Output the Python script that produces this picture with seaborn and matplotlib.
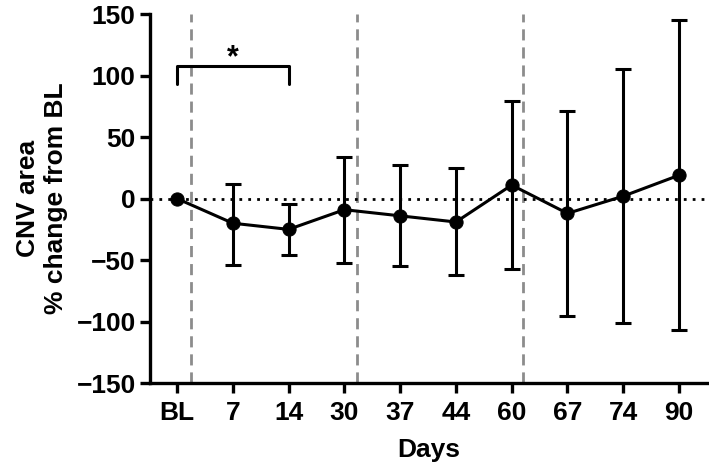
import numpy as np
import pandas as pd
import matplotlib
matplotlib.use("Agg")
import matplotlib.pyplot as plt
import seaborn as sns

# data
days = ["BL", "7", "14", "30", "37", "44", "60", "67", "74", "90"]
mean_change = [0, -20, -25, -9, -14, -19, 11, -12, 2, 19]
upper = [0, 12, -4, 34, 27, 25, 79, 71, 105, 145]
lower = [0, -54, -46, -52, -55, -62, -57, -95, -101, -107]
phase_breaks = [0.25, 3.22, 6.2]

df = pd.DataFrame({"Days": days, "Change": mean_change, "Upper": upper, "Lower": lower})

sns.set_style("ticks", {"axes.edgecolor": "black", "text.color": "black",
                        "axes.labelcolor": "black", "xtick.color": "black",
                        "ytick.color": "black"})
plt.rcParams["font.family"] = ["Liberation Sans", "DejaVu Sans"]
plt.rcParams["font.weight"] = "bold"

fig = plt.figure(figsize=(7.09, 4.69), dpi=100)
ax = fig.add_axes([0.212, 0.183, 0.785, 0.787])

# mean line first so the category order is BL, 7, 14, ...
sns.lineplot(data=df, x="Days", y="Change", color="black", linewidth=2.2,
             marker="o", markersize=9.5, markeredgecolor="black", ax=ax, zorder=4, sort=False)

# error bars (no bar for baseline)
sub = df.iloc[1:]
ax.errorbar(sub["Days"], sub["Change"],
            yerr=[sub["Change"] - sub["Lower"], sub["Upper"] - sub["Change"]],
            fmt="none", ecolor="black", elinewidth=2.2, capsize=6, capthick=2.2, zorder=3)

ax.axhline(0, color="black", linestyle=(0, (1, 2.2)), linewidth=2, zorder=2)
for xb in phase_breaks:
    ax.axvline(xb, color="#8c8c8c", linestyle=(0, (4, 2.5)), linewidth=2, zorder=1)

# significance bracket BL vs 14
ax.plot([0, 0, 2, 2], [93, 108, 108, 93], color="black", linewidth=2.2, clip_on=False)
ax.text(1, 114, "*", ha="center", va="center", fontsize=22, fontweight="bold")

ax.set_xlim(-0.48, 9.5)
ax.set_ylim(-150, 150)
ax.set_yticks([-150, -100, -50, 0, 50, 100, 150])
ax.set_yticklabels(["\u2212150", "\u2212100", "\u221250", "0", "50", "100", "150"])
ax.set_xlabel("Days", fontsize=19, fontweight="bold", labelpad=9)
ax.set_ylabel("CNV area\n% change from BL", fontsize=19, fontweight="bold", labelpad=6)
ax.tick_params(axis="both", labelsize=19, width=2.4, length=7, direction="out",
               colors="black")
ax.tick_params(axis="x", pad=6)
for lab in ax.get_xticklabels() + ax.get_yticklabels():
    lab.set_fontweight("bold")

sns.despine(ax=ax)
ax.spines["left"].set_linewidth(2.4)
ax.spines["bottom"].set_linewidth(2.4)

fig.savefig("out.png", dpi=100)
